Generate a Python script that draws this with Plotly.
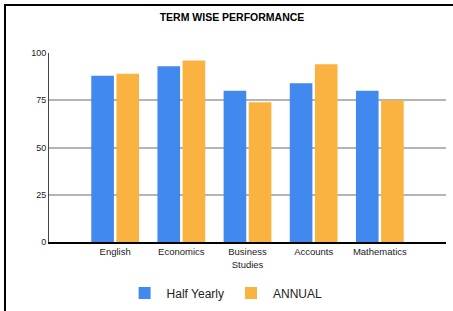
import plotly.graph_objects as go

subjects = ["English", "Economics", "Business<br>Studies", "Accounts", "Mathematics"]
half_yearly = [88, 93, 80, 84, 80]
annual = [89, 96, 74, 94, 75]
y_ticks = [0, 25, 50, 75, 100]

x = list(range(len(subjects)))

W, H = 453, 311
L, R, T, B = 49, 7, 53, 69
PW, PH = W - L - R, H - T - B

def px(v):
    return (v - L) / PW

def py(v):
    return (H - B - v) / PH

fig = go.Figure()
fig.add_trace(go.Bar(x=x, y=half_yearly, name="Half Yearly", marker=dict(color="#4189ee", line=dict(width=0))))
fig.add_trace(go.Bar(x=x, y=annual, name="ANNUAL", marker=dict(color="#fab341", line=dict(width=0))))

fig.update_layout(
    width=W, height=H,
    margin=dict(l=L, r=R, t=T, b=B, autoexpand=False),
    paper_bgcolor="white", plot_bgcolor="white",
    barmode="group", bargap=0.24, bargroupgap=0.1,
    title=dict(text="<b>TERM WISE PERFORMANCE</b>", x=232 / W, xanchor="center", y=1 - 17 / H, yanchor="middle",
               font=dict(family="Liberation Sans", size=10.5, color="#000")),
    font=dict(family="Liberation Sans", size=9, color="#222"),
    showlegend=True,
    legend=dict(orientation="h", x=84 / W, xanchor="left", yref="container", y=1 - 293 / H, yanchor="middle",
                font=dict(size=12, color="#222"), itemwidth=34, traceorder="normal"),
    xaxis=dict(range=[-1, 5], tickmode="array", tickvals=x, ticktext=subjects, automargin=False,
               showgrid=False, showline=True, linecolor="#000", linewidth=1.5,
               ticks="", ticklen=0, tickfont=dict(size=9.5, color="#222"), zeroline=False),
    yaxis=dict(range=[0, 100], tickvals=y_ticks, showgrid=True, gridcolor="#b4b4b4", gridwidth=1.5, automargin=False,
               showline=True, linecolor="#444", linewidth=1, ticks="", zeroline=False,
               tickfont=dict(size=9, color="#222")),
    shapes=[
        dict(type="line", xref="paper", yref="paper", x0=px(4), x1=px(W + 5), y0=py(5), y1=py(5),
             line=dict(color="#000", width=2)),
        dict(type="line", xref="paper", yref="paper", x0=px(5), x1=px(5), y0=py(5), y1=py(H + 5),
             line=dict(color="#000", width=2)),
    ],
)

fig.write_html("out.html", config={"displayModeBar": False},
               post_script="document.body.style.margin='0';document.body.style.overflow='hidden';")
